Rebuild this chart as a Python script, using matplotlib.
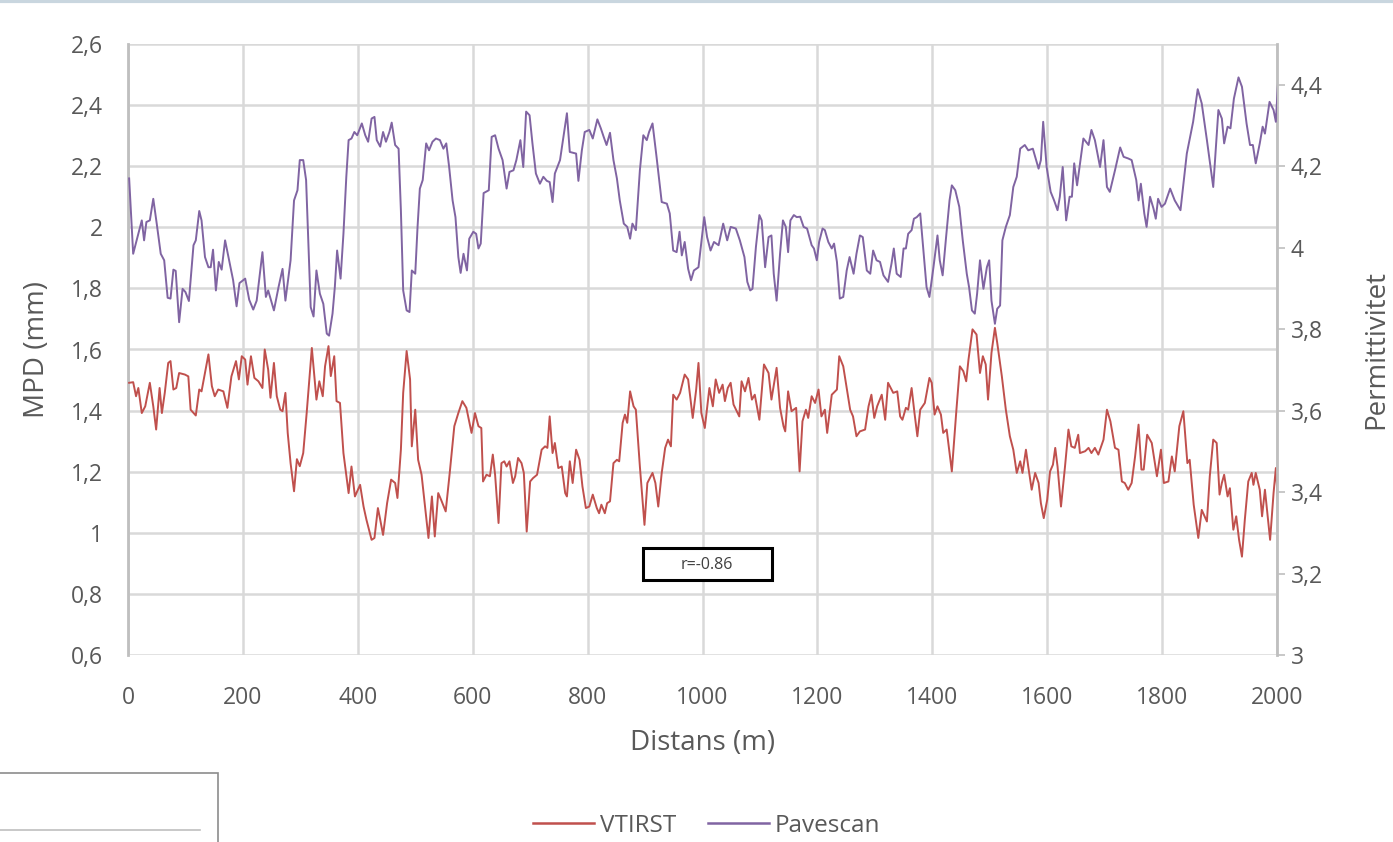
import matplotlib
matplotlib.use("Agg")
import matplotlib.pyplot as plt
from matplotlib.ticker import FuncFormatter
from matplotlib.patches import Rectangle
from matplotlib.lines import Line2D

# ---------------- data ----------------
vtirst_x = [2,9,14,18,24,30,38,44,49,55,59,64,70,74,79,84,89,99,105,109,118,124,128,140,146,151,157,166,173,180,188,193,198,204,208,214,220,227,234,238,244,248,254,259,265,269,274,278,283,289,294,299,305,311,320,328,333,
            339,343,349,353,359,363,369,375,384,389,395,404,410,415,424,429,435,439,444,451,458,465,469,475,479,485,491,494,500,505,511,517,523,529,534,540,545,553,560,568,575,582,589,598,604,610,615,618,624,630,635,639,645,650,655,659,664,
            670,674,679,685,689,694,700,705,712,720,726,730,734,739,743,749,755,761,764,769,774,780,786,791,797,803,809,816,820,824,830,834,839,845,851,855,861,865,869,874,880,884,891,899,904,913,918,923,929,935,940,945,949,955,961,969,975,983,989,993,
            998,1004,1012,1018,1023,1029,1035,1039,1044,1049,1054,1064,1068,1074,1080,1086,1091,1099,1107,1115,1120,1129,1135,1141,1144,1149,1155,1163,1169,1174,1180,1184,1190,1196,1202,1207,1213,1217,1225,1234,1238,1245,1251,1257,1262,1268,1274,1283,1289,1294,1299,1304,1312,1318,1323,
            1332,1339,1344,1348,1354,1358,1364,1369,1374,1379,1387,1395,1399,1404,1409,1415,1419,1425,1434,1442,1448,1454,1459,1463,1470,1477,1483,1488,1493,1497,1503,1509,1513,1521,1528,1535,1541,1547,1553,1557,1563,1567,1573,1579,1585,1589,1594,1600,1605,1610,1614,1618,1624,1631,1637,1642,1648,1654,
            1657,1666,1672,1677,1683,1689,1698,1704,1710,1718,1724,1730,1735,1741,1747,1753,1759,1764,1768,1774,1782,1791,1798,1803,1811,1817,1822,1830,1837,1844,1848,1855,1863,1869,1878,1883,1889,1895,1900,1904,1908,1914,1918,1924,1929,1934,1939,1944,1950,1956,1959,1963,1970,1974,1979,1988,1994,1998,2002]
vtirst_mpd = [1.491,1.493,1.447,1.474,1.392,1.414,1.491,1.414,1.338,1.474,1.392,1.458,1.556,1.562,1.469,1.474,1.523,1.518,1.512,1.403,1.384,1.469,1.463,1.584,1.48,1.447,1.469,1.463,1.409,1.512,1.562,1.502,1.578,1.567,1.485,1.578,1.507,1.496,1.474,1.6,1.534,1.442,1.556,1.447,1.403,1.398,1.458,1.327,1.228,1.136,1.241,1.218,1.261,1.392,1.605,1.436,1.496,
              1.447,1.545,1.611,1.513,1.578,1.431,1.425,1.261,1.13,1.217,1.119,1.157,1.086,1.043,0.977,0.983,1.081,1.043,0.993,1.097,1.174,1.163,1.114,1.272,1.458,1.595,1.502,1.283,1.403,1.239,1.19,1.086,0.983,1.119,0.988,1.13,1.108,1.07,1.196,1.349,1.392,1.431,1.409,1.327,1.392,1.349,1.343,1.168,1.19,1.185,1.256,1.19,1.032,1.228,1.234,1.217,1.234,
              1.163,1.185,1.245,1.228,1.196,1.004,1.168,1.179,1.19,1.272,1.283,1.278,1.381,1.261,1.294,1.212,1.217,1.13,1.119,1.234,1.163,1.272,1.239,1.152,1.081,1.086,1.125,1.081,1.064,1.092,1.064,1.097,1.103,1.228,1.239,1.234,1.36,1.387,1.36,1.463,1.414,1.403,1.217,1.026,1.163,1.196,1.163,1.086,1.196,1.278,1.305,1.283,1.452,1.436,1.458,1.518,1.502,1.376,1.469,1.556,
              1.392,1.343,1.474,1.414,1.502,1.458,1.485,1.431,1.474,1.491,1.42,1.381,1.496,1.463,1.507,1.436,1.452,1.37,1.551,1.523,1.436,1.54,1.409,1.349,1.332,1.463,1.398,1.409,1.201,1.365,1.403,1.376,1.447,1.425,1.469,1.381,1.403,1.327,1.452,1.469,1.578,1.545,1.474,1.403,1.381,1.316,1.332,1.338,1.414,1.452,1.376,1.414,1.452,1.37,1.491,
              1.458,1.463,1.381,1.37,1.409,1.403,1.474,1.392,1.316,1.403,1.425,1.507,1.491,1.387,1.414,1.387,1.327,1.338,1.201,1.403,1.545,1.529,1.496,1.567,1.666,1.649,1.523,1.578,1.551,1.436,1.589,1.671,1.622,1.513,1.403,1.316,1.272,1.196,1.234,1.196,1.272,1.217,1.141,1.196,1.163,1.097,1.048,1.108,1.201,1.223,1.278,1.217,1.086,1.217,1.338,1.283,1.278,1.321,
              1.261,1.267,1.278,1.261,1.278,1.256,1.305,1.403,1.365,1.278,1.272,1.168,1.163,1.141,1.163,1.25,1.354,1.207,1.207,1.321,1.294,1.185,1.272,1.163,1.168,1.25,1.201,1.349,1.398,1.228,1.239,1.092,0.983,1.075,1.037,1.185,1.305,1.294,1.125,1.163,1.19,1.119,1.146,1.01,1.054,0.977,0.922,1.043,1.168,1.196,1.157,1.196,1.141,1.054,1.141,0.977,1.13,1.212,1.092]

pave_x = [2,9,15,24,28,32,38,44,50,57,63,69,74,79,83,89,95,100,106,114,118,124,128,134,140,144,148,153,158,163,169,176,183,189,194,204,211,218,224,234,240,244,254,262,269,274,283,289,295,299,305,310,314,318,323,328,334,
          340,346,350,356,360,364,370,375,380,384,389,394,399,407,413,418,424,429,433,439,444,449,455,459,465,471,475,479,485,490,494,500,504,508,513,519,524,530,536,543,549,554,559,565,570,575,579,584,590,594,601,606,610,614,619,628,633,639,645,652,659,664,
          671,676,683,688,693,699,704,710,717,723,729,734,739,743,752,758,764,769,780,784,790,795,803,809,817,823,828,833,839,845,851,856,863,869,874,878,884,891,897,903,907,913,920,929,938,943,949,955,960,964,969,975,980,985,993,
          1003,1008,1014,1020,1028,1036,1043,1049,1058,1065,1073,1078,1083,1087,1093,1099,1103,1109,1115,1120,1124,1129,1135,1140,1145,1149,1153,1159,1164,1170,1176,1182,1190,1194,1199,1203,1209,1213,1219,1225,1229,1234,1239,1245,1251,1256,1263,1268,1274,1279,1286,1292,1297,1303,1309,1315,1323,
          1329,1333,1338,1345,1350,1354,1358,1364,1368,1373,1379,1384,1390,1395,1402,1409,1413,1418,1424,1430,1434,1440,1447,1453,1460,1464,1469,1474,1478,1483,1489,1495,1499,1503,1509,1513,1518,1522,1528,1535,1541,1547,1553,1561,1567,1575,1579,1585,1589,1593,1599,1606,1612,1618,1622,1627,1633,1639,1643,1647,1652,
          1663,1672,1677,1683,1692,1698,1704,1709,1718,1727,1733,1741,1747,1755,1759,1763,1769,1773,1779,1785,1789,1793,1799,1805,1814,1822,1832,1843,1854,1862,1869,1878,1889,1898,1904,1908,1914,1919,1925,1933,1939,1947,1953,1958,1963,1970,1975,1979,1987,1994,1998,2002]
pave_perm = [4.17,3.985,4.018,4.067,4.018,4.063,4.067,4.12,4.059,3.985,3.969,3.877,3.875,3.946,3.943,3.817,3.899,3.891,3.869,4.006,4.018,4.09,4.067,3.977,3.952,3.952,3.995,3.895,3.965,3.946,4.018,3.969,3.92,3.856,3.913,3.924,3.872,3.848,3.87,3.989,3.879,3.895,3.846,3.903,3.948,3.87,3.969,4.116,4.141,4.215,4.215,4.166,4.01,3.854,3.831,3.944,3.887,
             3.862,3.789,3.784,3.838,3.903,3.993,3.924,4.034,4.174,4.264,4.268,4.284,4.276,4.305,4.276,4.26,4.317,4.321,4.264,4.248,4.284,4.26,4.284,4.307,4.252,4.243,4.092,3.895,3.846,3.842,3.944,3.936,4.051,4.145,4.166,4.256,4.239,4.26,4.268,4.264,4.243,4.256,4.198,4.116,4.075,3.977,3.938,3.985,3.944,4.022,4.039,4.034,3.998,4.01,4.134,4.141,4.272,4.276,4.243,4.215,4.145,4.186,
             4.19,4.215,4.264,4.198,4.334,4.325,4.256,4.182,4.157,4.174,4.164,4.161,4.112,4.182,4.215,4.272,4.33,4.235,4.231,4.164,4.239,4.284,4.289,4.268,4.315,4.293,4.272,4.252,4.282,4.215,4.17,4.116,4.059,4.051,4.022,4.059,4.043,4.19,4.276,4.264,4.284,4.305,4.223,4.112,4.108,4.084,3.993,3.989,4.039,3.981,4.014,3.948,3.92,3.944,3.952,
             4.075,4.026,3.993,4.014,4.006,4.059,4.018,4.051,4.047,4.018,3.977,3.916,3.895,3.899,4.002,4.08,4.067,3.952,4.026,4.03,3.936,3.87,3.985,4.067,4.051,3.989,4.067,4.08,4.075,4.076,4.051,4.047,4.006,3.998,3.969,4.014,4.047,4.043,4.014,3.998,4.01,3.965,3.875,3.879,3.944,3.977,3.936,3.985,4.03,4.026,3.944,3.936,3.993,3.969,3.965,3.932,3.916,
             3.961,3.998,3.936,3.928,3.998,3.998,4.034,4.043,4.071,4.075,4.084,4.002,3.903,3.879,3.952,4.03,3.969,3.932,4.026,4.116,4.153,4.141,4.1,4.018,3.936,3.903,3.846,3.838,3.887,3.969,3.899,3.952,3.969,3.87,3.813,3.85,3.858,4.018,4.051,4.08,4.149,4.174,4.243,4.252,4.239,4.243,4.223,4.194,4.215,4.309,4.198,4.137,4.116,4.092,4.125,4.198,4.067,4.125,4.125,4.207,4.153,
             4.268,4.252,4.289,4.264,4.198,4.264,4.149,4.137,4.19,4.246,4.223,4.219,4.215,4.166,4.116,4.157,4.084,4.051,4.125,4.096,4.071,4.12,4.1,4.108,4.145,4.116,4.092,4.231,4.309,4.389,4.354,4.264,4.149,4.338,4.317,4.256,4.297,4.293,4.366,4.418,4.395,4.305,4.252,4.252,4.207,4.256,4.297,4.28,4.358,4.338,4.309,4.41]

left_ticks = [0.6, 0.8, 1.0, 1.2, 1.4, 1.6, 1.8, 2.0, 2.2, 2.4, 2.6]
right_ticks = [3.0, 3.2, 3.4, 3.6, 3.8, 4.0, 4.2, 4.4]
x_ticks = [0, 200, 400, 600, 800, 1000, 1200, 1400, 1600, 1800, 2000]
corr_text = "r=-0.86"

# ---------------- style ----------------
RED = "#c0504d"
PURPLE = "#8064a2"
GRID = "#d9d9d9"
TXT = "#595959"
FONT = ["Open Sans", "DejaVu Sans"]
plt.rcParams["font.family"] = FONT

W, H = 1393, 842
fig = plt.figure(figsize=(W/100, H/100), dpi=100)
ax = fig.add_axes([128/W, 1-655/H, (1277-128)/W, (655-44)/H])
ax2 = ax.twinx()

def comma(v, pos):
    s = ("%.1f" % v).rstrip("0").rstrip(".")
    return s.replace(".", ",")

ax.plot(vtirst_x, vtirst_mpd, color=RED, lw=1.4, zorder=3)
ax2.plot(pave_x, pave_perm, color=PURPLE, lw=1.4, zorder=3)

ax.set_xlim(0, 2000)
ax.set_ylim(0.6, 2.6)
ax2.set_ylim(3.0, 4.5)
ax.set_xticks(x_ticks)
ax.set_yticks(left_ticks)
ax2.set_yticks(right_ticks)
ax.yaxis.set_major_formatter(FuncFormatter(comma))
ax2.yaxis.set_major_formatter(FuncFormatter(comma))

ax.grid(True, color=GRID, lw=1.8, zorder=0)
ax.set_axisbelow(True)
for a in (ax, ax2):
    for s in ("top", "bottom", "left", "right"):
        a.spines[s].set_visible(False)
ax.spines["left"].set_visible(True)
ax.spines["left"].set_color("#bfbfbf")
ax.spines["left"].set_linewidth(2.0)
ax2.spines["right"].set_visible(True)
ax2.spines["right"].set_color("#bfbfbf")
ax2.spines["right"].set_linewidth(2.0)

ax.tick_params(axis="y", length=0, labelsize=16.5, labelcolor=TXT, pad=18)
ax.tick_params(axis="x", length=0, labelsize=16.5, labelcolor=TXT, pad=22)
ax2.tick_params(axis="y", length=6, width=1.2, color="#bfbfbf", labelsize=16.5, labelcolor=TXT, pad=4)

ax.set_xlabel("Distans (m)", fontsize=20, color=TXT, labelpad=14)
ax.set_ylabel("MPD (mm)", fontsize=20, color=TXT, labelpad=14)
ax2.set_ylabel("Permittivitet", fontsize=20, color=TXT, labelpad=28)

# correlation box
fig.add_artist(Rectangle((643/W, 1-580/H), (772-643)/W, (580-548)/H, transform=fig.transFigure,
                         fc="white", ec="black", lw=2.2, zorder=10))
fig.text(707/W, 1-565/H, corr_text, ha="center", va="center", fontsize=11.5, color="#404040", zorder=11)

# legend
handles = [Line2D([], [], color=RED, lw=1.8), Line2D([], [], color=PURPLE, lw=1.8)]
fig.legend(handles, ["VTIRST", "Pavescan"], loc="center", bbox_to_anchor=(707/W, 1-826/H),
           ncol=2, frameon=False, fontsize=17.5, handlelength=2.5, columnspacing=1.3,
           labelcolor=TXT, handletextpad=0.25)

# decorations outside plot
fig.add_artist(Line2D([0, 1], [1-1/H, 1-1/H], color="#c9d6df", lw=3, transform=fig.transFigure))
fig.add_artist(Rectangle((-0.01, -0.01), 218/W + 0.01, (H-773)/H + 0.01, transform=fig.transFigure,
                         fill=False, ec="#8c8c8c", lw=1.2))
fig.add_artist(Line2D([0, 200/W], [1-830/H, 1-830/H], color="#bfbfbf", lw=1.2, transform=fig.transFigure))

fig.savefig("out.png", dpi=100)
